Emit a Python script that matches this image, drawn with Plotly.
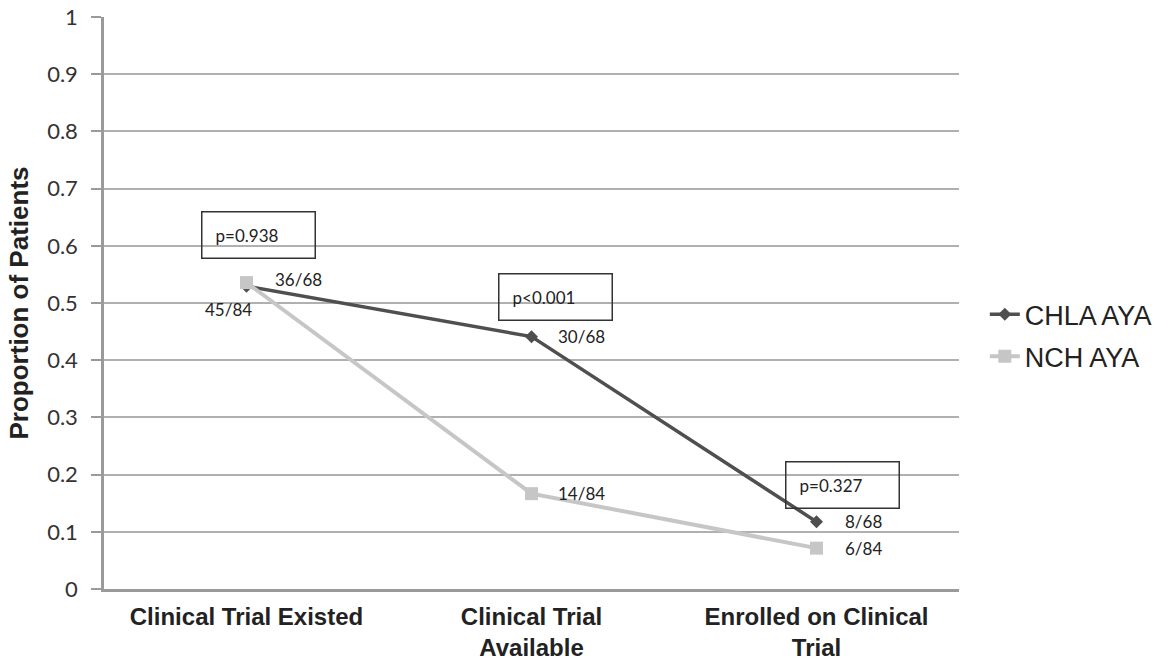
import plotly.graph_objects as go

categories = ["Clinical Trial Existed", "Clinical Trial<br>Available", "Enrolled on Clinical<br>Trial"]
chla_n = [36, 30, 8]
chla_d = 68
nch_n = [45, 14, 6]
nch_d = 84
chla_vals = [n / chla_d for n in chla_n]
nch_vals = [n / nch_d for n in nch_n]
p_values = ["p=0.938", "p<0.001", "p=0.327"]
y_ticks = [0, 0.1, 0.2, 0.3, 0.4, 0.5, 0.6, 0.7, 0.8, 0.9, 1]
y_tick_text = ["0", "0.1", "0.2", "0.3", "0.4", "0.5", "0.6", "0.7", "0.8", "0.9", "1"]

CAL = "Lato, Carlito, Open Sans, sans-serif"
ARIAL = "Liberation Sans, Arial, sans-serif"

fig = go.Figure()
fig.add_trace(go.Scatter(
    x=categories, y=chla_vals, mode="lines+markers", name="CHLA AYA",
    line=dict(color="#4f4f4f", width=3.5),
    marker=dict(symbol="diamond", size=10, color="#4f4f4f"),
    legendgroup="a",
))
fig.add_trace(go.Scatter(
    x=categories, y=nch_vals, mode="lines+markers", name="NCH AYA",
    line=dict(color="#c6c6c6", width=4),
    marker=dict(symbol="square", size=13, color="#c6c6c6"),
    legendgroup="b",
))

label_font = dict(family=CAL, size=17, color="#222222")
chla_offsets = [(26, 7, "left"), (24, 0, "left"), (26, 0, "left")]
for i, (cat, v) in enumerate(zip(categories, chla_vals)):
    xs, ys, anc = chla_offsets[i]
    fig.add_annotation(x=cat, y=v, xref="x", yref="y", text=f"{chla_n[i]}/{chla_d}",
                       showarrow=False, xanchor=anc, yanchor="middle",
                       xshift=xs, yshift=ys, font=label_font)
nch_offsets = [(-18, -27, "center"), (24, 0, "left"), (26, 0, "left")]
for i, (cat, v) in enumerate(zip(categories, nch_vals)):
    xs, ys, anc = nch_offsets[i]
    fig.add_annotation(x=cat, y=v, xref="x", yref="y", text=f"{nch_n[i]}/{nch_d}",
                       showarrow=False, xanchor=anc, yanchor="middle",
                       xshift=xs, yshift=ys, font=label_font)

# p-value boxes
box_pos = [(0.619, 12), (0.511, 24), (0.182, 26)]
for cat, p, (yv, xs) in zip(categories, p_values, box_pos):
    fig.add_annotation(x=cat, y=yv, xref="x", yref="y", text="&nbsp;&nbsp;&nbsp;" + p,
                       showarrow=False, xanchor="center", yanchor="middle", xshift=xs,
                       width=112, height=45, align="left", valign="middle",
                       bordercolor="#333333", borderwidth=1.5, borderpad=0,
                       bgcolor="rgba(0,0,0,0)",
                       font=dict(family=CAL, size=17, color="#222222"))

fig.update_layout(
    width=1168, height=663,
    margin=dict(l=104, r=208, t=17, b=74),
    plot_bgcolor="white", paper_bgcolor="white",
    showlegend=True,
    legend=dict(x=1.029, y=0.443, xanchor="left", yanchor="middle",
                font=dict(family=ARIAL, size=27, color="#222222"),
                tracegroupgap=4, traceorder="grouped", bgcolor="rgba(0,0,0,0)"),
    xaxis=dict(type="category", range=[-0.5, 2.5], showgrid=False, automargin=False,
               showline=True, linecolor="#9a9a9a", linewidth=2.5,
               ticks="", ticklabelstandoff=4,
               tickfont=dict(family=ARIAL, size=24, color="#222222", weight="bold"),
               fixedrange=True),
    yaxis=dict(range=[0, 1], tickvals=y_ticks, ticktext=y_tick_text, automargin=False,
               showgrid=True, gridcolor="#b0b0b0", gridwidth=2,
               showline=True, linecolor="#9a9a9a", linewidth=2.5,
               ticks="outside", ticklen=10, tickcolor="#9a9a9a", tickwidth=2,
               ticklabelstandoff=9,
               tickfont=dict(family=CAL, size=22, color="#333333"),
               title=dict(text="Proportion of Patients", standoff=12,
                          font=dict(family=ARIAL, size=26, color="#222222", weight="bold")),
               zeroline=False),
)

fig.write_html("out.html", config={"displayModeBar": False},
               post_script="document.body.style.margin='0';")
